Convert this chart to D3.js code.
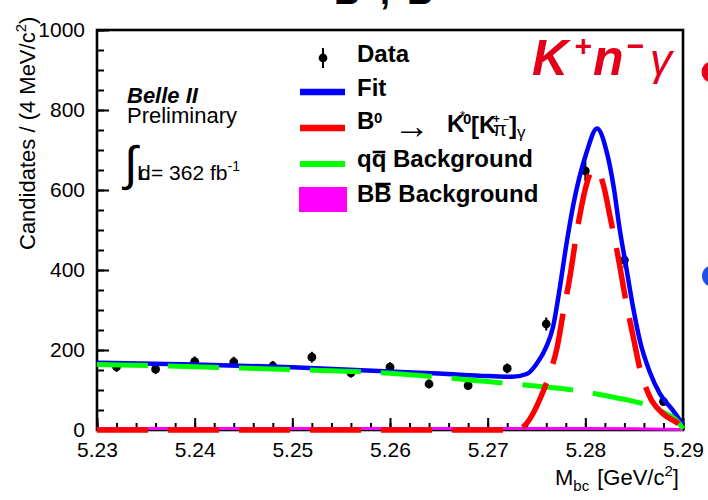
<!DOCTYPE html>
<html>
<head>
<meta charset="utf-8">
<script src="https://cdn.jsdelivr.net/npm/d3@7/dist/d3.min.js"></script>
<style>
  html, body { margin: 0; padding: 0; background: #fff; }
  svg { display: block; }
  text { font-family: "Liberation Sans", Arial, Helvetica, sans-serif; }
</style>
</head>
<body>
<svg id="chart" width="708" height="500"></svg>
<script>
// ---------------- data ----------------
const binCenters = [5.232, 5.236, 5.240, 5.244, 5.248, 5.252, 5.256, 5.260, 5.264, 5.268, 5.272, 5.276, 5.280, 5.284, 5.288];
const counts     = [158,   152,   171,   170,   160,   182,   143,   157,   115,   111,   154,   265,   648,   425,   71];

const fitX = [5.230, 5.240, 5.250, 5.260, 5.265, 5.270, 5.2725, 5.274, 5.275, 5.276, 5.2767, 5.2774, 5.2781, 5.2788, 5.2801, 5.2812, 5.2822, 5.2829, 5.2835, 5.2842, 5.2849, 5.2856, 5.2866, 5.2876, 5.2890, 5.2900];
const fitY = [168,   164,   157,   146,   141,   135,   133,    140,   165,   208,   258,    358,    470,    567,    692,    754,    694,    608,    505,    405,    305,    222,    145,    92,     48,     14];

const sigX = [5.230, 5.2725, 5.2735, 5.2740, 5.2754, 5.2764, 5.2771, 5.2777, 5.2784, 5.2792, 5.2801, 5.2806, 5.2811, 5.2818, 5.2826, 5.2833, 5.2842, 5.2849, 5.2856, 5.2866, 5.2880, 5.2897, 5.2900];
const sigY = [0,     0,      6,      17,     80,     145,    205,    288,    380,    505,    612,    645,    652,    617,    525,    440,    317,    233,    152,    83,     40,     12,     4];

const qqX = [5.230, 5.240, 5.250, 5.260, 5.265, 5.270, 5.274, 5.2788, 5.2812, 5.2829, 5.2862, 5.2880, 5.2895, 5.2900];
const qqY = [164,   158,   151,   142,   132,   121,   112,   100,    90,     82,     63,     44,     20,     3];

const bbX = [5.230, 5.250, 5.270, 5.280, 5.285, 5.290];
const bbY = [4,     4,     4,     4,     3,     1];

const xTicks = [5.23, 5.24, 5.25, 5.26, 5.27, 5.28, 5.29];
const yTicks = [0, 200, 400, 600, 800, 1000];

// ---------------- layout ----------------
const svg = d3.select("#chart");
const L = 97, R = 683, T = 30, B = 430;
const x = d3.scaleLinear().domain([5.23, 5.29]).range([L, R]);
const y = d3.scaleLinear().domain([0, 1000]).range([B, T]);

const BLUE = "#0000ff", RED = "#ff0000", GREEN = "#00ff00", MAG = "#ff00ff", LABRED = "#e3001b";

svg.append("rect").attr("width", 708).attr("height", 500).attr("fill", "#fff");

// partial title at very top (cut off by the page edge, as in the reference)
const ttl = svg.append("text").attr("y", 4).attr("font-size", 36).attr("font-weight", "bold");
ttl.append("tspan").attr("x", 334).text("B");
ttl.append("tspan").attr("x", 380).text(",");
ttl.append("tspan").attr("x", 407).text("B");

// frame
svg.append("rect").attr("x", L).attr("y", T).attr("width", R - L).attr("height", B - T)
  .attr("fill", "none").attr("stroke", "#000").attr("stroke-width", 2.6);

// axes
const xMinor = d3.range(0, 31).map(i => 5.23 + i * 0.002);
const yMinor = d3.range(0, 1001, 50);

const gxMinor = svg.append("g").attr("transform", `translate(0,${B})`)
  .call(d3.axisBottom(x).tickValues(xMinor).tickSize(-7).tickFormat(""));
const gx = svg.append("g").attr("transform", `translate(0,${B})`)
  .call(d3.axisBottom(x).tickValues(xTicks).tickSize(-12).tickPadding(12).tickFormat(d3.format(".2f")));
const gyMinor = svg.append("g").attr("transform", `translate(${L},0)`)
  .call(d3.axisLeft(y).tickValues(yMinor).tickSize(-7).tickFormat(""));
const gy = svg.append("g").attr("transform", `translate(${L},0)`)
  .call(d3.axisLeft(y).tickValues(yTicks).tickSize(-12).tickPadding(12).tickFormat(d3.format("d")));

[gxMinor, gx, gyMinor, gy].forEach(g => {
  g.select(".domain").remove();
  g.selectAll(".tick line").attr("stroke", "#000").attr("stroke-width", 2);
  g.selectAll("text").attr("font-size", 21).attr("fill", "#000")
    .attr("font-family", "'Liberation Sans', Arial, sans-serif");
});

// axis titles
const yt = svg.append("text").attr("transform", "translate(35,250) rotate(-90)")
  .attr("font-size", 22).attr("fill", "#000");
yt.append("tspan").text("Candidates / (4 MeV/c");
yt.append("tspan").attr("font-size", 15).attr("dy", -9).text("2");
yt.append("tspan").attr("dy", 9).text(")");

const xt = svg.append("text").attr("x", 555).attr("y", 485).attr("font-size", 22).attr("fill", "#000");
xt.append("tspan").text("M");
xt.append("tspan").attr("font-size", 15).attr("dy", 6).text("bc");
xt.append("tspan").attr("dy", -6).attr("dx", 8).text("[GeV/c");
xt.append("tspan").attr("font-size", 15).attr("dy", -9).text("2");
xt.append("tspan").attr("dy", 9).text("]");

// ---------------- data points ----------------
const pts = svg.append("g");
binCenters.forEach((c, i) => {
  const n = counts[i], e = Math.sqrt(n);
  pts.append("line").attr("x1", x(c)).attr("x2", x(c)).attr("y1", y(n - e)).attr("y2", y(n + e))
    .attr("stroke", "#000").attr("stroke-width", 2);
  pts.append("circle").attr("cx", x(c)).attr("cy", y(n)).attr("r", 4.4).attr("fill", "#000");
});

// ---------------- curves ----------------
function curve(xs, ys) {
  return d3.line().x((d, i) => x(xs[i])).y((d, i) => y(ys[i])).curve(d3.curveMonotoneX)(ys);
}
svg.append("path").attr("d", curve(bbX, bbY)).attr("fill", "none").attr("stroke", MAG).attr("stroke-width", 3);
svg.append("path").attr("d", curve(fitX, fitY)).attr("fill", "none").attr("stroke", BLUE).attr("stroke-width", 4.5);
svg.append("path").attr("d", curve(qqX, qqY)).attr("fill", "none").attr("stroke", GREEN).attr("stroke-width", 5)
  .attr("stroke-dasharray", "51,20");
svg.append("path").attr("d", curve(sigX, sigY)).attr("fill", "none").attr("stroke", RED).attr("stroke-width", 5.5)
  .attr("stroke-dasharray", "51,20");

// ---------------- legend ----------------
const lg = svg.append("g");
lg.append("line").attr("x1", 323).attr("x2", 323).attr("y1", 48).attr("y2", 68).attr("stroke", "#000").attr("stroke-width", 2);
lg.append("circle").attr("cx", 323).attr("cy", 58).attr("r", 4.4).attr("fill", "#000");
lg.append("line").attr("x1", 300).attr("x2", 345).attr("y1", 92).attr("y2", 92).attr("stroke", BLUE).attr("stroke-width", 6.5);
lg.append("line").attr("x1", 300).attr("x2", 345).attr("y1", 128).attr("y2", 128).attr("stroke", RED).attr("stroke-width", 6.5);
lg.append("line").attr("x1", 300).attr("x2", 345).attr("y1", 164).attr("y2", 164).attr("stroke", GREEN).attr("stroke-width", 6);
lg.append("rect").attr("x", 299).attr("y", 187).attr("width", 48).attr("height", 25).attr("fill", MAG);

function lt(xp, yp, s, size, weight, extra) {
  const t = lg.append("text").attr("x", xp).attr("y", yp).attr("font-size", size)
    .attr("font-weight", weight || "bold").attr("fill", "#000").text(s);
  if (extra) extra(t);
  return t;
}
lt(357, 62, "Data", 24);
lt(357, 96, "Fit", 24);
lt(357, 129, "B", 24);
lt(374, 123, "0", 15);
lt(394, 138, "\u2192", 36, "normal", t => t.attr("font-family", "'Liberation Serif', 'DejaVu Serif', serif"));
lt(447, 132, "K", 24);
lt(460, 120, "*", 13, "normal");
lt(463, 124, "0", 15);
lt(471, 134, "[", 24);
lt(479, 133, "K", 24);
lt(493, 123, "+", 12);
lt(493, 136, "\u03c0", 20, "normal", t => t.attr("font-family", "'Liberation Serif', serif"));
lt(503, 123, "\u2212", 11, "normal");
lt(509, 134, "]", 24);
lt(517, 138, "\u03b3", 17, "normal", t => t.attr("font-family", "'Liberation Serif', serif"));

const qqT = lt(357, 167, "qq Background", 24);
const bbT = lt(357, 202, "BB Background", 24);
function overline(t, idx, yy) {
  const n = t.node();
  const s = n.getStartPositionOfChar(idx).x, e = n.getEndPositionOfChar(idx).x;
  lg.append("line").attr("x1", s + 1).attr("x2", e - 1).attr("y1", yy).attr("y2", yy)
    .attr("stroke", "#000").attr("stroke-width", 2.5);
}
overline(qqT, 1, 152);
overline(bbT, 1, 184);

// ---------------- annotations ----------------
const ann = svg.append("g");
ann.append("text").attr("x", 127).attr("y", 103).attr("font-size", 22).attr("font-weight", "bold")
  .attr("font-style", "italic").text("Belle II");
ann.append("text").attr("x", 127).attr("y", 123).attr("font-size", 22).text("Preliminary");
ann.append("text").attr("x", 124).attr("y", 180).attr("font-size", 48)
  .attr("font-family", "'Liberation Serif', serif").text("\u222b");
ann.append("text").attr("x", 137).attr("y", 180).attr("font-size", 21).text("L");
ann.append("text").attr("x", 139).attr("y", 180).attr("font-size", 21).text("d");
const lum = ann.append("text").attr("x", 151).attr("y", 180).attr("font-size", 21);
lum.append("tspan").text("= 362 fb");
lum.append("tspan").attr("font-size", 14).attr("dy", -9).text("-1");

// channel label
const ch = svg.append("text").attr("y", 75).attr("fill", LABRED).attr("font-weight", "bold").attr("font-style", "italic");
ch.append("tspan").attr("x", 532).attr("font-size", 50).text("K");
ch.append("tspan").attr("x", 574).attr("y", 56).attr("font-size", 30).text("+");
ch.append("tspan").attr("x", 593).attr("y", 75).attr("font-size", 50).text("n");
ch.append("tspan").attr("x", 626).attr("y", 56).attr("font-size", 30).text("\u2212");
ch.append("tspan").attr("x", 650).attr("y", 75).attr("font-size", 44).attr("font-weight", "normal").text("\u03b3");

// neighbouring-panel bullets at right edge
svg.append("circle").attr("cx", 712).attr("cy", 72).attr("r", 10.5).attr("fill", LABRED);
svg.append("circle").attr("cx", 713).attr("cy", 276).attr("r", 11).attr("fill", "#1f4fe6");
</script>
</body>
</html>
